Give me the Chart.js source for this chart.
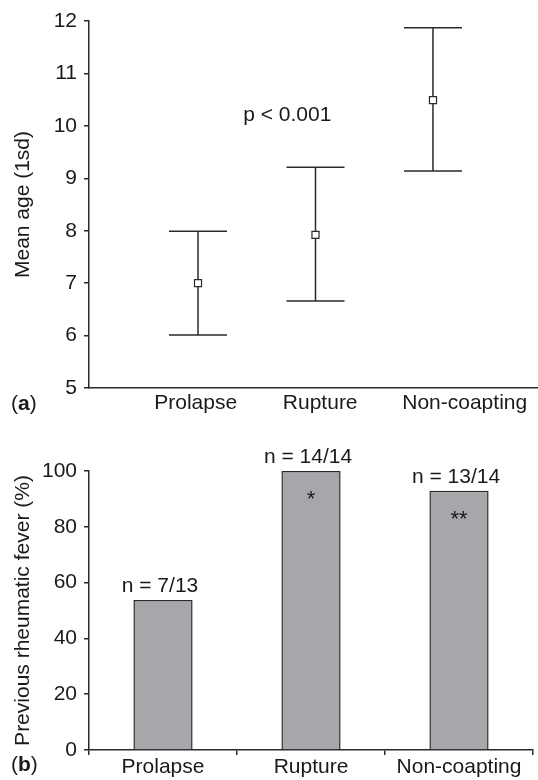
<!DOCTYPE html>
<html>
<head>
<meta charset="utf-8">
<script src="https://cdn.jsdelivr.net/npm/chart.js@4.4.1/dist/chart.umd.min.js"></script>
<style>
  html, body { margin: 0; padding: 0; background: #fff; }
  #wrapA { position: absolute; left: 0; top: 0; width: 538px; height: 430px; }
  #wrapB { position: absolute; left: 0; top: 430px; width: 538px; height: 350px; }
</style>
</head>
<body>
<div id="wrapA"><canvas id="chartA"></canvas></div>
<div id="wrapB"><canvas id="chartB"></canvas></div>
<script>
// (a) mean age, +/- 1 sd
const groups = ['Prolapse', 'Rupture', 'Non-coapting'];
const meanAge = [7.0, 7.92, 10.49];
const sdLow = [6.01, 6.66, 9.14];
const sdHigh = [7.99, 9.21, 11.87];
const ageTicks = [5, 6, 7, 8, 9, 10, 11, 12];

// (b) previous rheumatic fever
const feverPct = [53.8, 100, 92.9];
const feverN = ['n = 7/13', 'n = 14/14', 'n = 13/14'];
const feverStars = ['', '*', '**'];
const pctTicks = [0, 20, 40, 60, 80, 100];

const FONT = '"Liberation Sans", Arial, Helvetica, sans-serif';
const INK = '#1a1a1a';
Chart.defaults.font.family = FONT;
Chart.defaults.font.size = 21;
Chart.defaults.color = INK;
Chart.defaults.animation = false;

// where the category names sit on the linear x axis of (a)
const labelAt = [0.98, 2.04, 3.27];

function panelLetter(ctx, letter, x, y) {
  ctx.save();
  ctx.fillStyle = INK;
  ctx.textBaseline = 'middle';
  ctx.textAlign = 'left';
  ctx.font = '21px ' + FONT;
  ctx.fillText('(', x, y);
  let w = ctx.measureText('(').width;
  ctx.font = 'bold 21px ' + FONT;
  ctx.fillText(letter, x + w, y);
  w += ctx.measureText(letter).width;
  ctx.font = '21px ' + FONT;
  ctx.fillText(')', x + w, y);
  ctx.restore();
}

const errorBars = {
  id: 'errorBars',
  beforeDatasetsDraw(chart) {
    const {ctx, scales: {x, y}} = chart;
    ctx.save();
    ctx.strokeStyle = '#2a2a2a';
    ctx.lineWidth = 1.5;
    meanAge.forEach((m, i) => {
      const px = x.getPixelForValue(i + 1);
      const top = y.getPixelForValue(sdHigh[i]);
      const bot = y.getPixelForValue(sdLow[i]);
      ctx.beginPath();
      ctx.moveTo(px, top); ctx.lineTo(px, bot);
      ctx.moveTo(px - 29, top); ctx.lineTo(px + 29, top);
      ctx.moveTo(px - 29, bot); ctx.lineTo(px + 29, bot);
      ctx.stroke();
    });
    ctx.restore();
  },
  afterDraw(chart) {
    const {ctx, scales: {x, y}} = chart;
    ctx.save();
    ctx.fillStyle = INK;
    ctx.font = '21px ' + FONT;
    ctx.textAlign = 'center';
    ctx.textBaseline = 'middle';
    ctx.fillText('p < 0.001', x.getPixelForValue(1.76), y.getPixelForValue(10.2));
    ctx.restore();
    panelLetter(ctx, 'a', 11, 404);
  }
};

new Chart(document.getElementById('chartA'), {
  type: 'scatter',
  data: {
    datasets: [{
      data: meanAge.map((v, i) => ({x: i + 1, y: v})),
      pointStyle: 'rect',
      pointRadius: 5,
      pointBackgroundColor: '#fff',
      pointBorderColor: '#2a2a2a',
      pointBorderWidth: 1.2
    }]
  },
  options: {
    responsive: true,
    maintainAspectRatio: false,
    layout: {autoPadding: false, padding: {top: 21, left: 0, right: 0, bottom: 0}},
    plugins: {legend: {display: false}, tooltip: {enabled: false}},
    scales: {
      x: {
        type: 'linear',
        min: 0.072,
        max: 3.894,
        afterBuildTicks: s => { s.ticks = labelAt.map(v => ({value: v})); },
        afterFit: s => { s.height = 42; s.paddingLeft = 0; s.paddingRight = 0; },
        ticks: {callback: (v, i) => groups[i], padding: 3, maxRotation: 0, autoSkip: false, color: INK},
        grid: {drawOnChartArea: false, drawTicks: false},
        border: {color: '#2a2a2a', width: 1.5}
      },
      y: {
        min: 5,
        max: 12,
        afterBuildTicks: s => { s.ticks = ageTicks.map(v => ({value: v})); },
        afterFit: s => { s.width = 89; },
        ticks: {padding: 7, color: INK},
        grid: {drawOnChartArea: false, tickLength: 5, color: '#2a2a2a', lineWidth: 1.5},
        border: {color: '#2a2a2a', width: 1.5},
        title: {display: true, text: 'Mean age (1sd)', padding: {top: 11, bottom: 0}, color: INK, font: {size: 21}}
      }
    }
  },
  plugins: [errorBars]
});

const barNotes = {
  id: 'barNotes',
  afterDatasetsDraw(chart) {
    const {ctx} = chart;
    const bars = chart.getDatasetMeta(0).data;
    ctx.save();
    ctx.fillStyle = INK;
    ctx.textAlign = 'center';
    ctx.textBaseline = 'middle';
    bars.forEach((b, i) => {
      ctx.font = '21px ' + FONT;
      ctx.fillText(feverN[i], b.x - 3, b.y - 14);
      if (feverStars[i]) {
        ctx.font = '22px ' + FONT;
        ctx.fillText(feverStars[i], b.x, b.y + 29);
      }
    });
    ctx.restore();
  },
  afterDraw(chart) {
    panelLetter(chart.ctx, 'b', 11, 335);
  }
};

new Chart(document.getElementById('chartB'), {
  type: 'bar',
  data: {
    labels: groups,
    datasets: [{
      data: feverPct,
      backgroundColor: '#a6a7ab',
      borderColor: '#2a2a2a',
      borderWidth: 1.5,
      barPercentage: 0.4,
      categoryPercentage: 1
    }]
  },
  options: {
    responsive: true,
    maintainAspectRatio: false,
    layout: {padding: {top: 41, left: 0, right: 5, bottom: 0}},
    plugins: {legend: {display: false}, tooltip: {enabled: false}},
    scales: {
      x: {
        afterFit: s => { s.height = 30; s.paddingLeft = 0; s.paddingRight = 0; },
        ticks: {padding: 0, maxRotation: 0, autoSkip: false, color: INK},
        grid: {drawOnChartArea: false, tickLength: 5, color: '#2a2a2a', lineWidth: 1.5},
        border: {color: '#2a2a2a', width: 1.5}
      },
      y: {
        min: 0,
        max: 100,
        afterBuildTicks: s => { s.ticks = pctTicks.map(v => ({value: v})); },
        afterFit: s => { s.width = 89; },
        ticks: {padding: 7, color: INK},
        grid: {drawOnChartArea: false, tickLength: 5, color: '#2a2a2a', lineWidth: 1.5},
        border: {color: '#2a2a2a', width: 1.5},
        title: {display: true, text: 'Previous rheumatic fever (%)', padding: {top: 11, bottom: 0}, color: INK, font: {size: 21}}
      }
    }
  },
  plugins: [barNotes]
});
</script>
</body>
</html>
